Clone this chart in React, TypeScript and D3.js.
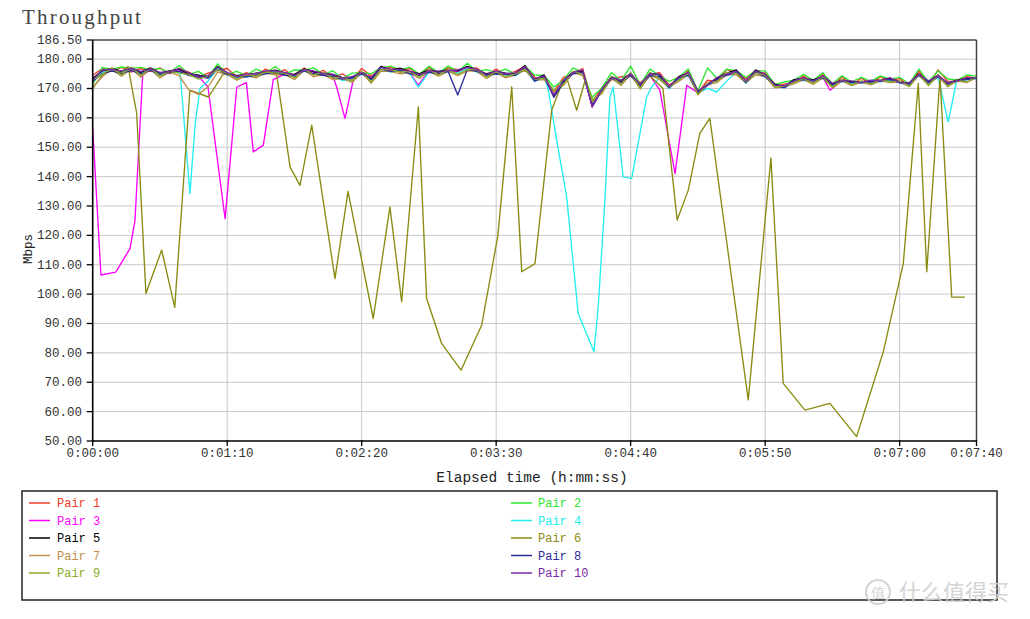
import React from 'react';
import * as d3 from 'd3';

// ---- data (elapsed seconds, Mbps) ----
const times = [
  0, 5, 10, 15, 20, 25, 30, 35, 40, 45,
  50, 55, 60, 65, 70, 75, 80, 85, 90, 95,
  100, 105, 110, 115, 120, 125, 130, 135, 140, 145,
  150, 155, 160, 165, 170, 175, 180, 185, 190, 195,
  200, 205, 210, 215, 220, 225, 230, 235, 240, 245,
  250, 255, 260, 265, 270, 275, 280, 285, 290, 295,
  300, 305, 310, 315, 320, 325, 330, 335, 340, 345,
  350, 355, 360, 365, 370, 375, 380, 385, 390, 395,
  400, 405, 410, 415, 420, 425, 430, 435, 440, 445,
  450, 455, 460,
];

const pair1 = [
  174.5, 176.8, 175.8, 177.2, 175.6, 176.8, 175.8, 177.0, 175.0, 176.8,
  175.6, 173.8, 175.2, 176.2, 176.8, 173.9, 175.4, 174.2, 176.6, 175.0,
  176.4, 173.8, 177.0, 174.6, 176.2, 173.6, 175.0, 172.8, 176.8, 174.2,
  176.6, 177.2, 175.6, 176.8, 174.4, 177.2, 174.8, 177.0, 176.4, 176.8,
  177.0, 174.4, 176.6, 174.6, 175.8, 177.6, 173.8, 173.6, 169.0, 173.8,
  175.0, 176.8, 165.5, 170.2, 173.0, 174.0, 174.2, 172.0, 174.5, 175.5,
  171.2, 173.0, 176.0, 168.4, 172.8, 172.2, 176.5, 175.2, 173.3, 175.4,
  175.3, 170.8, 171.5, 172.0, 174.2, 172.0, 174.8, 170.6, 174.0, 171.2,
  173.5, 171.6, 174.0, 172.3, 173.4, 170.8, 176.0, 171.2, 176.3, 172.5,
  172.4, 174.0, 173.5,
];

const pair2 = [
  171.5, 177.2, 176.5, 177.3, 176.8, 177.2, 176.4, 176.8, 175.4, 177.8,
  174.8, 175.8, 173.8, 178.4, 174.8, 175.8, 174.4, 176.6, 175.3, 177.5,
  174.8, 176.3, 176.2, 177.0, 174.8, 176.0, 173.4, 175.2, 175.4, 175.0,
  177.0, 177.6, 176.4, 177.2, 174.8, 177.6, 175.4, 177.6, 175.8, 178.6,
  175.8, 176.4, 175.4, 176.6, 174.8, 177.6, 174.6, 174.4, 170.5, 172.8,
  177.0, 175.6, 167.0, 170.2, 175.4, 172.6, 177.6, 171.2, 176.6, 174.4,
  172.4, 173.8, 176.6, 169.2, 177.0, 173.4, 176.6, 176.0, 173.8, 176.0,
  176.0, 171.4, 172.2, 172.8, 174.8, 172.8, 175.3, 171.6, 174.3, 172.2,
  173.8, 172.4, 174.3, 173.2, 173.8, 171.6, 176.6, 172.2, 176.0, 173.3,
  172.8, 174.6, 174.2,
];

const pair3: [number, number][] = [
  [0, 156.5], [4.3, 106.5], [12, 107.5], [19.4, 115.5], [22, 125], [26, 174.5], [30, 176.5],
  [35, 174.8], [40, 175.8], [45, 176.0], [50, 174.5], [55, 174.2], [60, 170.5], [68.9, 125.7],
  [75, 170.5], [80, 172.0], [83.6, 148.4], [88.8, 150.7], [94, 173.0], [100, 175.0], [105, 174.5],
  [110, 176.2], [115, 175.5], [120, 175.0], [125, 174.2], [127, 170.5], [131.3, 159.8],
  [135.6, 172.8], [140, 175.5], [145, 173.2], [150, 177.0], [155, 176.0], [160, 176.5],
  [165, 175.5], [169.4, 171.1], [175, 176.0], [180, 175.5], [185, 176.0], [190, 175.7],
  [195, 177.0], [200, 176.0], [205, 174.8], [210, 175.5], [215, 175.0], [220, 174.8],
  [225, 177.5], [230, 173.0], [235, 174.3], [240, 167.8], [245, 172.3], [250, 175.5],
  [255, 175.8], [260, 163.8], [265, 169.5], [270, 173.8], [275, 172.3], [280, 175.0],
  [285, 170.8], [290, 174.5], [295.2, 169.4], [303.1, 141.0], [309.2, 171.1], [315, 168.5],
  [320, 171.3], [325, 173.3], [330, 175.0], [335, 176.0], [340, 172.0], [345, 176.0],
  [350, 174.3], [355, 171.3], [360, 170.4], [365, 172.8], [370, 173.2], [375, 172.7],
  [380, 173.8], [383.8, 169.4], [390, 172.6], [395, 172.0], [400, 172.0], [405, 172.3],
  [410, 172.6], [415, 173.2], [420, 172.0], [425, 171.5], [430, 174.8], [435, 172.0],
  [440, 174.3], [445, 171.5], [450, 172.6], [455, 173.2], [460, 173.6],
];

const pair4: [number, number][] = [
  [0, 172.5], [5, 175.5], [10, 176.5], [15, 175.5], [20, 176.5], [25, 175.0], [30, 176.5],
  [35, 174.8], [40, 175.5], [45.5, 175.5], [50.6, 134.2], [53.3, 157.6], [55.8, 170.0],
  [60, 172.5], [65, 176.8], [70, 174.6], [75, 173.8], [80, 174.0], [85, 174.6], [90, 175.2],
  [95, 175.6], [100, 174.6], [105, 174.0], [110, 176.0], [115, 175.0], [120, 174.6],
  [125, 174.0], [130, 172.8], [135, 172.8], [140, 175.0], [145, 172.8], [150, 176.8],
  [155, 175.6], [160, 176.0], [165, 175.2], [169.4, 170.5], [175, 175.6], [180, 175.0],
  [185, 175.6], [190, 175.3], [195, 176.8], [200, 175.6], [205, 174.4], [210, 175.0],
  [215, 174.6], [220, 174.3], [225, 176.5], [230, 172.4], [235, 173.8], [237, 170.0],
  [241.5, 152.4], [246.7, 133.0], [252.7, 93.4], [260.9, 80.4], [263.1, 95.7], [266.6, 132.0],
  [269.2, 167.0], [270.9, 170.5], [276.1, 139.9], [280.5, 139.3], [288.3, 167.0], [290.9, 170.5],
  [295, 173.8], [300, 170.0], [305, 173.3], [310, 174.5], [315, 168.5], [320, 170.0],
  [324.8, 168.8], [330, 172.5], [335, 175.6], [340, 171.8], [345, 175.6], [350, 174.0],
  [355, 171.0], [360, 170.2], [365, 172.4], [370, 172.8], [375, 172.3], [380, 173.4],
  [385, 171.2], [390, 172.3], [395, 171.8], [400, 171.8], [405, 172.0], [410, 172.3],
  [415, 172.8], [420, 171.8], [425, 171.2], [430, 174.3], [435, 171.8], [440, 173.8],
  [445.3, 158.6], [449.7, 172.8], [455, 173.0], [460, 173.3],
];

const pair5 = [
  173.5, 176.0, 176.8, 175.8, 177.0, 175.5, 177.0, 175.2, 176.0, 176.5,
  175.0, 174.5, 174.0, 177.5, 175.2, 174.4, 174.6, 175.2, 175.7, 176.2,
  175.2, 174.8, 176.7, 175.7, 175.2, 174.6, 173.7, 173.7, 175.7, 173.4,
  177.5, 176.3, 176.9, 175.7, 175.0, 176.3, 175.7, 176.3, 176.0, 177.5,
  176.3, 175.0, 175.7, 175.2, 175.0, 177.8, 173.0, 174.6, 167.5, 172.5,
  175.7, 176.0, 164.0, 169.5, 174.0, 172.5, 175.2, 171.1, 175.2, 174.6,
  170.5, 174.0, 175.2, 168.9, 171.5, 173.5, 175.2, 176.3, 172.3, 176.3,
  174.6, 171.5, 170.6, 173.0, 173.4, 172.9, 174.0, 171.5, 172.9, 172.3,
  172.3, 172.5, 172.9, 173.4, 172.3, 171.7, 175.0, 172.3, 174.6, 171.7,
  172.9, 173.4, 173.7,
];

const pair6: [number, number][] = [
  [0, 170.0], [5.4, 175.0], [10.6, 176.3], [14.7, 175.3], [18.4, 177.5], [22.9, 161.5],
  [27.7, 100.2], [35.9, 115.0], [42.7, 95.5], [50.6, 169.4], [60.2, 167.1], [63.6, 170.5],
  [68, 175.0], [73, 174.2], [78, 174.3], [83, 174.8], [88, 175.4], [92, 175.8], [95.8, 174.5],
  [97.5, 167.0], [102.7, 143.3], [107.9, 137.0], [114, 157.5], [126.1, 105.3], [132.9, 135.0],
  [146, 91.7], [154.7, 129.7], [160.8, 97.4], [169.5, 163.7], [173.8, 98.5], [181.6, 83.2],
  [191.7, 74.1], [202.5, 89.5], [210.9, 120.0], [218.1, 170.5], [223.3, 107.6], [230.2, 110.4],
  [238.9, 162.6], [243.2, 170.0], [247, 173.0], [251.9, 162.6], [256.3, 172.8], [260, 165.5],
  [265, 169.0], [270, 173.2], [275, 172.0], [280, 174.5], [285, 170.5], [290, 174.3],
  [296.8, 170.0], [304.2, 125.2], [310, 135.4], [316, 154.7], [321.2, 159.8], [341.2, 64.0],
  [353, 146.3], [359.4, 69.6], [370.7, 60.5], [383.7, 62.8], [397.6, 51.5], [411.5, 80.4],
  [421.9, 110.4], [429.7, 171.7], [434.1, 107.6], [441, 174.0], [447.1, 99.0], [454, 99.0],
];

const pair7 = [
  170.5, 174.0, 176.6, 174.2, 176.8, 173.8, 176.6, 173.6, 175.6, 174.4,
  169.5, 168.0, 170.5, 175.6, 174.8, 172.8, 174.4, 173.6, 175.2, 174.6,
  174.8, 173.0, 176.2, 174.0, 174.8, 173.0, 173.4, 172.0, 175.4, 171.8,
  175.8, 175.8, 175.0, 175.4, 173.4, 175.8, 174.2, 175.8, 174.4, 176.0,
  175.8, 173.4, 175.4, 173.6, 174.6, 176.2, 172.8, 173.0, 168.8, 171.0,
  175.4, 174.4, 166.2, 168.2, 173.6, 171.0, 174.8, 169.8, 174.8, 173.0,
  170.4, 172.4, 174.8, 167.8, 171.4, 172.0, 174.8, 174.6, 172.0, 174.6,
  174.2, 170.2, 170.6, 171.6, 173.0, 171.4, 173.6, 170.2, 172.6, 171.0,
  172.2, 171.2, 172.6, 172.0, 172.2, 170.6, 174.6, 171.0, 174.2, 170.6,
  172.6, 172.0, 173.8,
];

const pair8 = [
  172.5, 175.0, 176.0, 175.0, 176.2, 175.0, 176.2, 174.5, 175.5, 175.8,
  174.5, 174.0, 173.5, 176.5, 174.8, 174.0, 174.0, 174.5, 175.0, 175.5,
  174.5, 174.2, 176.0, 175.0, 174.5, 174.0, 173.2, 173.5, 175.0, 173.0,
  176.5, 175.8, 176.2, 175.0, 174.5, 175.5, 175.0, 175.8, 167.8, 176.5,
  175.8, 174.5, 175.0, 174.8, 174.5, 177.0, 172.5, 174.0, 167.0, 172.0,
  175.0, 175.5, 164.5, 169.0, 173.5, 172.0, 174.5, 170.8, 174.5, 174.0,
  170.2, 173.5, 174.5, 168.5, 171.0, 173.0, 174.5, 175.5, 172.0, 175.5,
  174.0, 171.0, 170.3, 172.5, 173.0, 172.5, 173.5, 171.2, 172.5, 172.0,
  172.0, 172.2, 172.5, 173.0, 172.0, 171.5, 174.5, 172.0, 174.0, 171.5,
  172.5, 173.0, 173.5,
];

const pair9 = [
  173.0, 174.8, 177.0, 174.6, 177.2, 174.4, 176.8, 174.2, 175.8, 175.2,
  174.8, 173.2, 174.2, 176.4, 175.2, 173.2, 174.8, 174.2, 175.6, 175.2,
  175.4, 173.6, 176.6, 174.6, 175.4, 173.6, 173.8, 172.6, 175.8, 172.2,
  176.4, 176.4, 175.6, 175.8, 173.8, 176.4, 174.6, 176.4, 174.8, 176.4,
  176.4, 173.8, 175.8, 174.0, 175.0, 176.6, 173.2, 173.4, 169.4, 171.4,
  175.8, 174.8, 165.8, 168.6, 174.0, 171.4, 175.4, 170.0, 175.4, 173.4,
  170.6, 172.8, 175.2, 168.0, 171.8, 172.4, 175.4, 175.2, 172.4, 175.2,
  174.6, 170.6, 170.8, 172.0, 173.4, 171.8, 174.0, 170.4, 173.0, 171.2,
  172.6, 171.4, 173.0, 172.2, 172.6, 170.8, 174.8, 171.2, 174.6, 170.8,
  172.8, 172.2, 174.0,
];

const pair10 = [
  173.0, 176.3, 176.5, 176.0, 176.8, 175.8, 176.7, 175.5, 175.7, 176.8,
  175.3, 174.2, 174.3, 177.2, 175.5, 174.0, 174.9, 175.0, 176.0, 176.0,
  175.5, 174.5, 176.4, 176.0, 175.0, 174.9, 173.5, 174.0, 175.4, 173.7,
  177.2, 176.6, 176.5, 175.9, 174.7, 176.0, 175.9, 176.0, 176.3, 177.2,
  176.5, 174.7, 176.0, 175.0, 175.3, 177.5, 173.3, 174.3, 167.8, 172.8,
  175.4, 176.3, 163.7, 169.8, 173.7, 172.8, 175.0, 171.4, 175.0, 174.9,
  170.8, 173.7, 175.5, 169.2, 171.2, 173.8, 174.9, 176.0, 172.6, 176.0,
  174.9, 171.2, 170.9, 172.7, 173.7, 172.6, 174.3, 171.8, 172.6, 172.6,
  172.0, 172.8, 172.6, 173.7, 172.0, 172.0, 174.7, 172.6, 174.3, 172.0,
  172.6, 173.7, 173.5,
];

const seriesNames = ['Pair 1', 'Pair 2', 'Pair 3', 'Pair 4', 'Pair 5', 'Pair 6', 'Pair 7', 'Pair 8', 'Pair 9', 'Pair 10'];
const seriesColors = ['#f03c28', '#2ee82e', '#ff00ff', '#22eef0', '#000000', '#8a8a10', '#c0904a', '#2a2a9a', '#8aaa2a', '#7a2aa8'];

const yTicks = [50, 60, 70, 80, 90, 100, 110, 120, 130, 140, 150, 160, 170, 180, 186.5];
const xTicks = [0, 70, 140, 210, 280, 350, 420, 460];

function fmtTime(s: number) {
  const h = Math.floor(s / 3600);
  const m = Math.floor((s % 3600) / 60);
  const sec = Math.round(s % 60);
  return `${h}:${String(m).padStart(2, '0')}:${String(sec).padStart(2, '0')}`;
}

const MONO = "'Liberation Mono', 'DejaVu Sans Mono', monospace";

export default function App() {
  const x = d3.scaleLinear().domain([0, 460]).range([92.7, 976.5]);
  const y = d3.scaleLinear().domain([50, 186.5]).range([441, 40]);
  const line = d3.line<[number, number]>().x((d) => x(d[0])).y((d) => y(d[1]));
  const zip = (vals: number[]) => times.map((t, i) => [t, vals[i]] as [number, number]);
  const data: [number, number][][] = [
    zip(pair1), zip(pair2), pair3, pair4, zip(pair5), pair6, zip(pair7), zip(pair8), zip(pair9), zip(pair10),
  ];
  const fmtY = d3.format('.2f');
  const [x0, x1] = x.range();
  const [yb, yt] = y.range();

  const legendRows = [503, 520.5, 538, 555.5, 573];

  return (
    <svg width={1030} height={619} style={{ position: 'absolute', left: 0, top: 0, background: '#fff' }}>
      <rect x={0} y={0} width={1030} height={619} fill="#fff" />
      <text x={22} y={24} fontFamily="'Liberation Serif', 'DejaVu Serif', serif" fontSize={21} letterSpacing={2.2} fill="#444">
        Throughput
      </text>

      {/* grid */}
      {yTicks.filter((v) => v > 50 && v < 186.5).map((v) => (
        <line key={'gy' + v} x1={x0} x2={x1} y1={y(v)} y2={y(v)} stroke="#c8c8c8" strokeWidth={1} />
      ))}
      {xTicks.filter((v) => v > 0 && v < 460).map((v) => (
        <line key={'gx' + v} x1={x(v)} x2={x(v)} y1={yt} y2={yb} stroke="#c8c8c8" strokeWidth={1} />
      ))}

      <defs>
        <clipPath id="plot">
          <rect x={x0} y={yt} width={x1 - x0} height={yb - yt} />
        </clipPath>
      </defs>

      {/* series */}
      <g clipPath="url(#plot)">
        {data.map((d, i) => (
          <path key={seriesNames[i]} d={line(d) || ''} fill="none" stroke={seriesColors[i]} strokeWidth={1.35} strokeLinejoin="round" />
        ))}
      </g>

      {/* frame */}
      <line x1={x0} x2={x1} y1={yt} y2={yt} stroke="#444" strokeWidth={1.5} />
      <line x1={x1} x2={x1} y1={yt} y2={yb} stroke="#444" strokeWidth={1.5} />
      <line x1={x0} x2={x0} y1={yt} y2={yb + 1} stroke="#000" strokeWidth={1.6} />
      <line x1={x0} x2={x1} y1={yb} y2={yb} stroke="#000" strokeWidth={1.6} />

      {/* y axis */}
      {yTicks.map((v) => (
        <g key={'ty' + v}>
          <line x1={x0 - 6} x2={x0} y1={y(v)} y2={y(v)} stroke="#000" strokeWidth={1.3} />
          <text x={82} y={y(v) + 4} textAnchor="end" fontFamily={MONO} fontSize={12.5} fill="#333">
            {fmtY(v)}
          </text>
        </g>
      ))}
      {/* x axis */}
      {xTicks.map((v) => (
        <g key={'tx' + v}>
          <line x1={x(v)} x2={x(v)} y1={yb - 1} y2={yb + 5} stroke="#000" strokeWidth={1.3} />
          <text x={x(v)} y={457} textAnchor="middle" fontFamily={MONO} fontSize={12.5} fill="#333">
            {fmtTime(v)}
          </text>
        </g>
      ))}

      <text x={532} y={482} textAnchor="middle" fontFamily={MONO} fontSize={14.5} fill="#222">
        Elapsed time (h:mm:ss)
      </text>
      <text transform="translate(32,249) rotate(-90)" textAnchor="middle" fontFamily={MONO} fontSize={12.5} fill="#222">
        Mbps
      </text>

      {/* legend */}
      <rect x={22} y={491} width={975} height={109} fill="#fff" stroke="#222" strokeWidth={1.5} />
      {seriesNames.map((name, i) => {
        const col = i % 2;
        const row = Math.floor(i / 2);
        const lx = col === 0 ? 29 : 511;
        const tx = col === 0 ? 57 : 538;
        const ly = legendRows[row];
        return (
          <g key={'lg' + name}>
            <line x1={lx} x2={lx + 21} y1={ly} y2={ly} stroke={seriesColors[i]} strokeWidth={1.5} />
            <text x={tx} y={ly + 4} fontFamily={MONO} fontSize={12} fill={seriesColors[i]}>
              {name}
            </text>
          </g>
        );
      })}

      {/* watermark */}
      <g opacity={0.9}>
        <circle cx={878} cy={592} r={12} fill="none" stroke="#cfcfcf" strokeWidth={2} />
        <text x={878} y={598} textAnchor="middle" fontFamily="'Noto Sans CJK SC', sans-serif" fontSize={14} fill="#cfcfcf">
          值
        </text>
        <text x={899} y={600} fontFamily="'Noto Sans CJK SC', sans-serif" fontSize={22} fill="#d0d0d0">
          什么值得买
        </text>
      </g>
    </svg>
  );
}
